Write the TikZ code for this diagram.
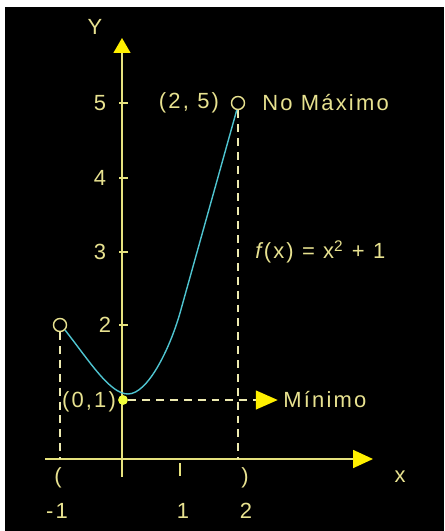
\documentclass[tikz,border=0pt]{standalone}
\usepackage{fontspec}
\setmainfont{Liberation Sans}[LetterSpace=10]
\usepackage{tikz}
\usetikzlibrary{arrows.meta,positioning}
\definecolor{grline}{HTML}{E6E27E}
\definecolor{grtext}{HTML}{E8E290}
\definecolor{grdash}{HTML}{EDEAB0}
\definecolor{grtip}{HTML}{FFF000}
\definecolor{grdot}{HTML}{F2FF3A}
\definecolor{grcyan}{HTML}{4FC4D0}

\begin{document}
\begin{tikzpicture}[
  x=0.02cm, y=-0.02cm,
  axis/.style={draw=grline,line width=0.85pt},
  guide/.style={draw=grdash,line width=0.85pt,dash pattern=on 4.5pt off 3.4pt},
  curve/.style={draw=grcyan,line width=0.8pt},
  lbl/.style={text=grtext,font=\fontsize{12.5}{14}\selectfont,inner sep=0pt},
  opendot/.style={circle,draw=grtext,line width=0.8pt,minimum size=7.4pt,inner sep=0pt},
  fulldot/.style={circle,fill=grdot,minimum size=5.6pt,inner sep=0pt}
]
  \useasboundingbox (0,0) rectangle (444,531);
  \fill[white] (0,0) rectangle (444,531);
  \fill[black] (5,7) rectangle (444,531);

  \coordinate (xl) at (45,459);
  \coordinate (xr) at (373,459);
  \coordinate (yb) at (122,477);
  \coordinate (yt) at (122,38);

  \draw[axis,-{Triangle[width=10.2pt,length=11.3pt,color=grtip]}] (xl) -- (xr);
  \draw[axis,-{Triangle[width=9.6pt,length=8.5pt,color=grtip]}] (yb) -- (yt);

  \foreach \v/\py/\px in {5/103/100,4/178/100,3/252/100,2/325/105}{
    \draw[axis] (119,\py) -- (128,\py);
    \node[lbl] at (\px,\py) {\v};
  }
  \draw[axis] (180,463) -- (180,476);

  \node[lbl] (ylab) at (95,27) {Y};
  \node[lbl] (xlab) at (400,477) {x};
  \node[lbl] (lpar) at (58,478) {(};
  \node[lbl] (rpar) at (245,478) {)};
  \node[lbl] (xm1) at (57,511) {-1};
  \node[lbl] (x1) at (183,511) {1};
  \node[lbl] (x2) at (246,511) {2};

  \node[opendot] (pa) at (60,325) {};
  \node[opendot] (pb) at (238,103) {};
  \node[fulldot] (pmin) at (123,400) {};

  \node[lbl] (pbl) at (189,103) {(2, 5)};
  \node[lbl,anchor=west] (maxl) at (262,103) {No Máximo};
  \node[lbl] (pminl) at (89,402) {(0,1)};
  \node[lbl,anchor=west] (minl) at (283,400) {Mínimo};
  \node[lbl,anchor=west] (fl) at (255,252) {\textit{f}\kern-1pt(x) = x\textsuperscript{2} + 1};

  \draw[guide] (pa) -- (pa |- xl);
  \draw[guide] (pb) -- (pb |- xl);
  \draw[guide,-{Triangle[width=10.8pt,length=12.5pt,color=grtip]}] (pmin) -- ([xshift=-3pt]minl.west);

  \draw[curve] (pa.-45) .. controls (90,362) and (110,394) .. (128,394)
    .. controls (148,394) and (170,348) .. (180,313) -- (pb.-100);
\end{tikzpicture}
\end{document}
